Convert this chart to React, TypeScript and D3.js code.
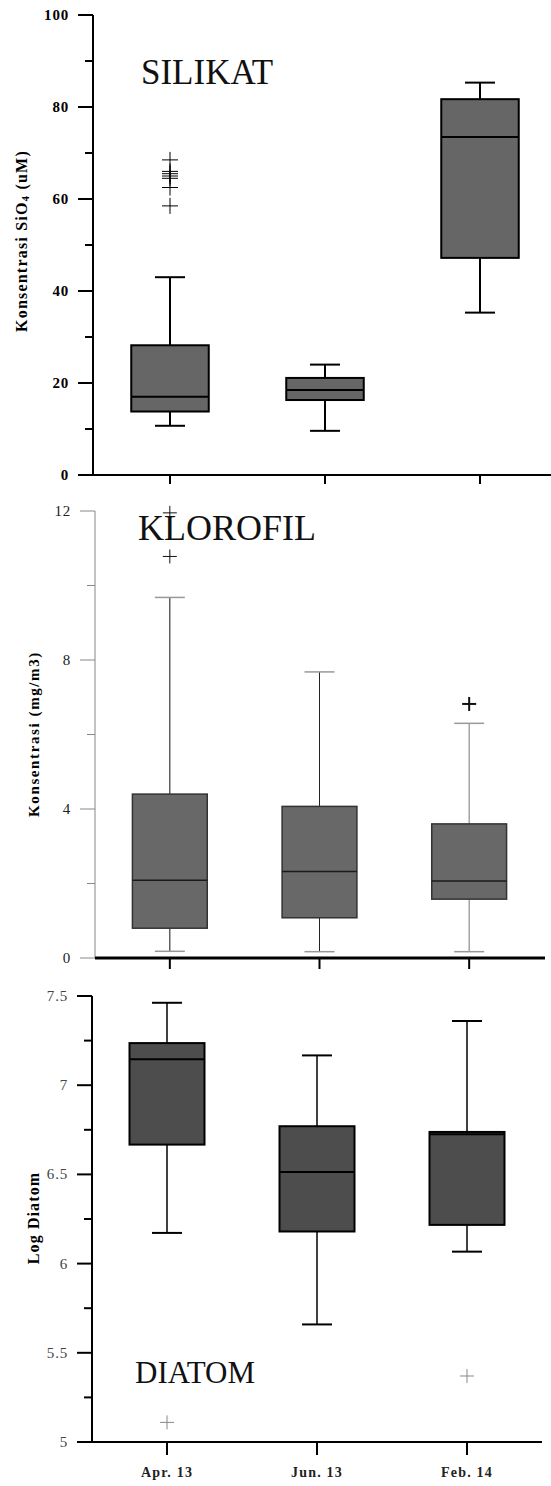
import React from 'react';
import * as d3 from 'd3';

// sampling periods
const categories = ['Apr. 13', 'Jun. 13', 'Feb. 14'];

// SILIKAT (uM)
const silikatLow = [10.7, 9.6, 35.3];
const silikatQ1 = [13.8, 16.3, 47.2];
const silikatMedian = [17.0, 18.5, 73.5];
const silikatQ3 = [28.2, 21.1, 81.7];
const silikatHigh = [43.0, 24.0, 85.3];
const silikatOutliers = [[68.5, 66, 65.5, 65, 64.5, 62.5, 58.5], [], []];
const silikatTicks = [0, 20, 40, 60, 80, 100];
const silikatMinor = [10, 30, 50, 70, 90];

// KLOROFIL (mg/m3)
const klorofilLow = [0.18, 0.17, 0.17];
const klorofilQ1 = [0.8, 1.08, 1.58];
const klorofilMedian = [2.09, 2.32, 2.07];
const klorofilQ3 = [4.4, 4.07, 3.6];
const klorofilHigh = [9.68, 7.68, 6.3];
const klorofilOutliers = [[11.95, 10.78], [], [6.82]];
const klorofilTicks = [0, 4, 8, 12];
const klorofilMinor = [2, 6, 10];

// DIATOM (log)
const diatomLow = [6.172, 5.659, 6.067];
const diatomQ1 = [6.667, 6.18, 6.217];
const diatomMedian = [7.146, 6.513, 6.725];
const diatomQ3 = [7.236, 6.77, 6.738];
const diatomHigh = [7.462, 7.167, 7.36];
const diatomOutliers = [[5.11], [], [5.37]];
const diatomTicks = [5, 5.5, 6, 6.5, 7, 7.5];
const diatomMinor = [5.25, 5.75, 6.25, 6.75, 7.25];

const FONT = '"Liberation Serif", "Times New Roman", serif';

type Style = {
  fill: string;
  boxStroke: string;
  boxWidth: number;
  medianStroke: string;
  whiskerStroke: string[];
  whiskerWidth: number;
  capStroke: string;
  capWidth: number;
  outlierStroke: string[];
  outlierWidth: number[];
  outlierSize: number;
  axisStroke: string;
  axisWidth: number;
  baseStroke: string;
  baseWidth: number;
  tickFont: number;
  tickWeight: string;
  tickFill: string;
  tickLen: number;
};

type PanelProps = {
  low: number[]; q1: number[]; median: number[]; q3: number[]; high: number[];
  outliers: number[][];
  domain: [number, number];
  yRange: [number, number];
  xRange: [number, number];
  axisX: number;
  baseStart: number;
  baseEnd: number;
  ticks: number[];
  minor: number[];
  st: Style;
};

const Panel = ({ low, q1, median, q3, high, outliers, domain, yRange, xRange, axisX, baseStart, baseEnd, ticks, minor, st }: PanelProps) => {
  const y = d3.scaleLinear().domain(domain).range(yRange);
  const x = d3.scaleBand().domain(categories).range(xRange);
  const bw = x.step() * 0.5;
  const cap = 30;
  const base = yRange[0];
  return (
    <g>
      {/* y axis */}
      <line x1={axisX} x2={axisX} y1={yRange[1]} y2={base} stroke={st.axisStroke} strokeWidth={st.axisWidth} />
      {ticks.map((t) => (
        <g key={'t' + t}>
          <line x1={axisX - 15} x2={axisX} y1={y(t)} y2={y(t)} stroke={st.axisStroke} strokeWidth={st.axisWidth} />
          <text x={axisX - 24} y={y(t)} textAnchor="end" dominantBaseline="central" fontFamily={FONT}
            fontSize={st.tickFont} fontWeight={st.tickWeight} fill={st.tickFill} letterSpacing={0.8}>{String(t)}</text>
        </g>
      ))}
      {minor.map((t) => (
        <line key={'m' + t} x1={axisX - 8} x2={axisX} y1={y(t)} y2={y(t)} stroke={st.axisStroke} strokeWidth={st.axisWidth} />
      ))}
      {/* x axis */}
      <line x1={baseStart} x2={baseEnd} y1={base} y2={base} stroke={st.baseStroke} strokeWidth={st.baseWidth} />
      {categories.map((c) => {
        const cx = (x(c) as number) + x.bandwidth() / 2;
        return <line key={'xt' + c} x1={cx} x2={cx} y1={base} y2={base + st.tickLen} stroke="#000" strokeWidth={2} />;
      })}
      {/* boxes */}
      {categories.map((c, i) => {
        const cx = (x(c) as number) + x.bandwidth() / 2;
        return (
          <g key={'b' + c}>
            <line x1={cx} x2={cx} y1={y(q3[i])} y2={y(high[i])} stroke={st.whiskerStroke[i]} strokeWidth={st.whiskerWidth} />
            <line x1={cx} x2={cx} y1={y(q1[i])} y2={y(low[i])} stroke={st.whiskerStroke[i]} strokeWidth={st.whiskerWidth} />
            <line x1={cx - cap / 2} x2={cx + cap / 2} y1={y(high[i])} y2={y(high[i])} stroke={st.capStroke} strokeWidth={st.capWidth} />
            <line x1={cx - cap / 2} x2={cx + cap / 2} y1={y(low[i])} y2={y(low[i])} stroke={st.capStroke} strokeWidth={st.capWidth} />
            <rect x={cx - bw / 2} y={y(q3[i])} width={bw} height={y(q1[i]) - y(q3[i])} fill={st.fill} stroke={st.boxStroke} strokeWidth={st.boxWidth} />
            <line x1={cx - bw / 2} x2={cx + bw / 2} y1={y(median[i])} y2={y(median[i])} stroke={st.medianStroke} strokeWidth={st.boxWidth} />
            {outliers[i].map((o, j) => (
              <g key={'o' + j} stroke={st.outlierStroke[i]} strokeWidth={st.outlierWidth[i]}>
                <line x1={cx - st.outlierSize} x2={cx + st.outlierSize} y1={y(o)} y2={y(o)} />
                <line x1={cx} x2={cx} y1={y(o) - st.outlierSize} y2={y(o) + st.outlierSize} />
              </g>
            ))}
          </g>
        );
      })}
    </g>
  );
};

const topStyle: Style = {
  fill: '#666666', boxStroke: '#000', boxWidth: 2, medianStroke: '#000',
  whiskerStroke: ['#000', '#000', '#000'], whiskerWidth: 2, capStroke: '#000', capWidth: 2,
  outlierStroke: ['#000', '#000', '#000'], outlierWidth: [1, 1, 1], outlierSize: 8,
  axisStroke: '#000', axisWidth: 2, baseStroke: '#000', baseWidth: 2,
  tickFont: 15, tickWeight: 'bold', tickFill: '#000', tickLen: 9,
};

const midStyle: Style = {
  fill: '#686868', boxStroke: '#333', boxWidth: 1.5, medianStroke: '#1a1a1a',
  whiskerStroke: ['#111', '#222', '#777'], whiskerWidth: 1, capStroke: '#999', capWidth: 1.5,
  outlierStroke: ['#111', '#111', '#111'], outlierWidth: [1, 1, 2], outlierSize: 7,
  axisStroke: '#888', axisWidth: 1, baseStroke: '#000', baseWidth: 3,
  tickFont: 15, tickWeight: 'normal', tickFill: '#222', tickLen: 11,
};

const botStyle: Style = {
  fill: '#4d4d4d', boxStroke: '#000', boxWidth: 2, medianStroke: '#000',
  whiskerStroke: ['#000', '#000', '#000'], whiskerWidth: 1.5, capStroke: '#000', capWidth: 2,
  outlierStroke: ['#888', '#888', '#888'], outlierWidth: [1, 1, 1], outlierSize: 7,
  axisStroke: '#000', axisWidth: 2, baseStroke: '#000', baseWidth: 2,
  tickFont: 15, tickWeight: 'normal', tickFill: '#444', tickLen: 13,
};

const App = () => {
  const botX = d3.scaleBand().domain(categories).range([92, 542]);
  return (
    <div style={{ position: 'absolute', left: 0, top: 0 }}>
      <svg width={551} height={1486} style={{ display: 'block', background: '#fff' }}>
        <Panel low={silikatLow} q1={silikatQ1} median={silikatMedian} q3={silikatQ3} high={silikatHigh}
          outliers={silikatOutliers} domain={[0, 100]} yRange={[475, 15]} xRange={[92.5, 557.5]}
          axisX={93} baseStart={78} baseEnd={551} ticks={silikatTicks} minor={silikatMinor} st={topStyle} />
        <Panel low={klorofilLow} q1={klorofilQ1} median={klorofilMedian} q3={klorofilQ3} high={klorofilHigh}
          outliers={klorofilOutliers} domain={[0, 12]} yRange={[958, 511]} xRange={[95, 544]}
          axisX={95} baseStart={95} baseEnd={545} ticks={klorofilTicks} minor={klorofilMinor} st={midStyle} />
        <Panel low={diatomLow} q1={diatomQ1} median={diatomMedian} q3={diatomQ3} high={diatomHigh}
          outliers={diatomOutliers} domain={[5, 7.5]} yRange={[1442, 996]} xRange={[92, 542]}
          axisX={92} baseStart={77} baseEnd={542} ticks={diatomTicks} minor={diatomMinor} st={botStyle} />

        {/* panel titles */}
        <text x={141} y={84} fontFamily={FONT} fontWeight="normal" fontSize={35} fill="#111">SILIKAT</text>
        <text x={138} y={540} fontFamily={FONT} fontWeight="normal" fontSize={36} fill="#111">KLOROFIL</text>
        <text x={135} y={1383} fontFamily={FONT} fontWeight="normal" fontSize={31} fill="#111">DIATOM</text>

        {/* y axis titles */}
        <text transform="translate(21,241) rotate(-90)" textAnchor="middle" dominantBaseline="central"
          fontFamily={FONT} fontSize={16} fontWeight="bold" letterSpacing={1.2} fill="#000">
          Konsentrasi SiO<tspan dy={4} fontSize={11}>4</tspan><tspan dy={-4}> (uM)</tspan>
        </text>
        <text transform="translate(34,734) rotate(-90)" textAnchor="middle" dominantBaseline="central"
          fontFamily={FONT} fontSize={15} fontWeight="bold" letterSpacing={1.6} fill="#000">
          Konsentrasi (mg/m3)
        </text>
        <text transform="translate(33,1218) rotate(-90)" textAnchor="middle" dominantBaseline="central"
          fontFamily={FONT} fontSize={16} fontWeight="bold" letterSpacing={1.1} fill="#000">
          Log Diatom
        </text>

        {/* x tick labels */}
        {categories.map((c) => (
          <text key={c} x={(botX(c) as number) + botX.bandwidth() / 2} y={1472} textAnchor="middle"
            dominantBaseline="central" fontFamily={FONT} fontSize={14} fontWeight="bold" letterSpacing={1.2} fill="#222">{c}</text>
        ))}
      </svg>
    </div>
  );
};

export default App;
